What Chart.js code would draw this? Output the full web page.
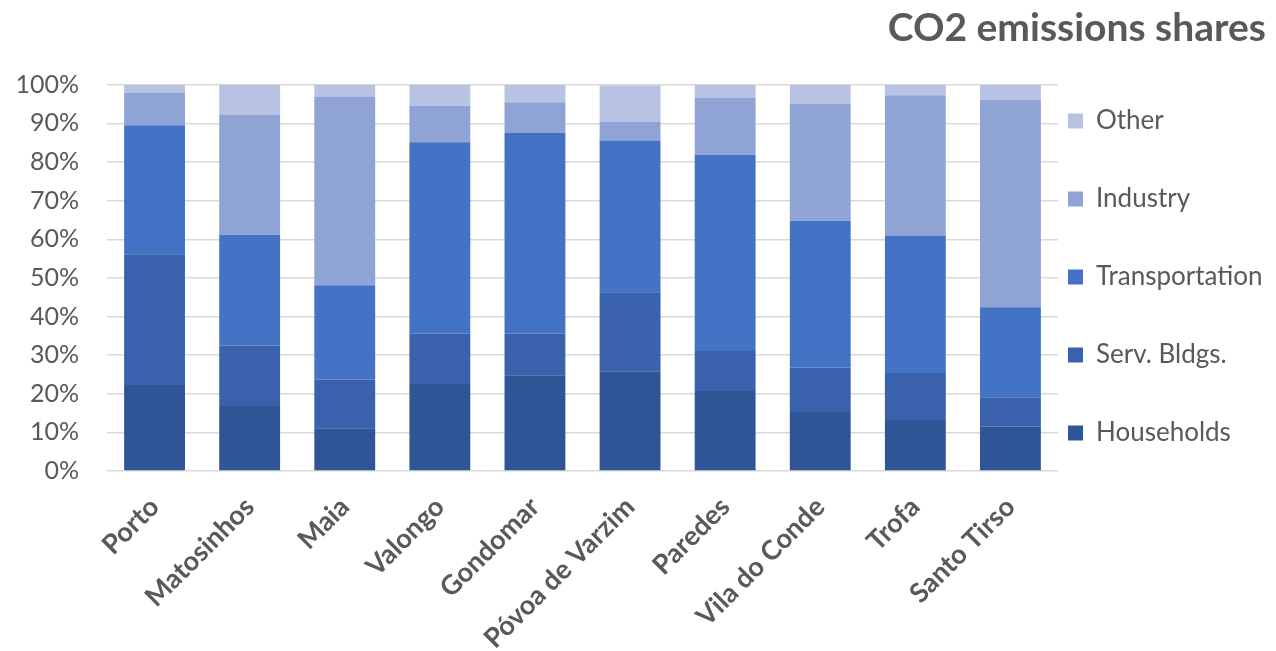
<!DOCTYPE html>
<html>
<head>
<meta charset="utf-8">
<script src="https://cdn.jsdelivr.net/npm/chart.js@4/dist/chart.umd.min.js"></script>
<style>
  html, body { margin: 0; padding: 0; background: #ffffff; }
  #wrap { width: 1276px; height: 651px; }
</style>
</head>
<body>
<div id="wrap"><canvas id="chart" width="1276" height="651"></canvas></div>
<script>
// Municipalities of the Porto metropolitan area
const municipalities = ['Porto', 'Matosinhos', 'Maia', 'Valongo', 'Gondomar',
  'Póvoa de Varzim', 'Paredes', 'Vila do Conde', 'Trofa', 'Santo Tirso'];

// Share of CO2 emissions by sector (%)
const households     = [22.3, 16.8, 11.1, 22.5, 24.8, 25.8, 20.7, 15.3, 13.2, 11.5];
const servBuildings  = [33.8, 15.7, 12.6, 13.1, 10.8, 20.5, 10.4, 11.5, 12.2,  7.6];
const transportation = [33.4, 28.7, 24.4, 49.5, 51.9, 39.3, 50.7, 38.0, 35.6, 23.3];
const industry       = [ 8.4, 31.1, 48.9,  9.5,  8.0,  4.9, 14.9, 30.2, 36.3, 53.7];
const other          = [ 2.1,  7.7,  3.0,  5.4,  4.5,  9.3,  3.3,  5.0,  2.7,  3.9];

const yTicks = [0, 10, 20, 30, 40, 50, 60, 70, 80, 90, 100];

const FONT = 'Lato, "Open Sans", sans-serif';
const GREY = '#595959';

const series = [
  { label: 'Households',     data: households,     color: '#2F5597' },
  { label: 'Serv. Bldgs.',   data: servBuildings,  color: '#3A62AC' },
  { label: 'Transportation', data: transportation, color: '#4472C4' },
  { label: 'Industry',       data: industry,       color: '#8FA3D4' },
  { label: 'Other',          data: other,          color: '#B8C2E2' }
];

new Chart(document.getElementById('chart'), {
  type: 'bar',
  data: {
    labels: municipalities,
    datasets: series.map(s => ({
      label: s.label,
      data: s.data,
      backgroundColor: s.color,
      borderWidth: 0,
      barPercentage: 0.64,
      categoryPercentage: 1.0
    }))
  },
  options: {
    responsive: false,
    animation: false,
    layout: { padding: { left: 0, right: 10, top: 0, bottom: 0 } },
    plugins: {
      title: {
        display: true,
        text: 'CO2 emissions shares',
        align: 'end',
        color: GREY,
        font: { family: FONT, size: 39, weight: 'bold', lineHeight: 1.2 },
        padding: { top: 5, bottom: 33 }
      },
      legend: {
        position: 'right',
        align: 'start',
        fullSize: true,
        maxWidth: 208,
        reverse: true,
        // empty title used as a top spacer for the legend column
        title: { display: true, text: '', padding: { top: 97, bottom: 0 }, font: { size: 1, lineHeight: 1 } },
        labels: {
          color: GREY,
          boxWidth: 15,
          boxHeight: 15,
          padding: 10,
          font: { family: FONT, size: 26, lineHeight: '68px' },
          generateLabels(chart) {
            const items = Chart.defaults.plugins.legend.labels.generateLabels(chart);
            return items.map(it => Object.assign(it, { text: [it.text], lineWidth: 0 }));
          }
        }
      },
      tooltip: { enabled: false }
    },
    scales: {
      x: {
        stacked: true,
        grid: { display: false },
        border: { display: false },
        ticks: {
          color: GREY,
          font: { family: FONT, size: 27, weight: 'bold' },
          minRotation: 45,
          maxRotation: 45,
          padding: 12,
          autoSkip: false
        },
        afterFit(scale) { scale.height = 180; }
      },
      y: {
        stacked: true,
        min: 0,
        max: 100,
        afterBuildTicks(scale) { scale.ticks = yTicks.map(v => ({ value: v })); },
        grid: { color: '#d9d9d9', lineWidth: 1.5, drawTicks: false },
        border: { display: false },
        ticks: {
          color: GREY,
          font: { family: FONT, size: 25 },
          padding: 28,
          callback: v => v + '%'
        },
        afterFit(scale) { scale.width = 107; }
      }
    }
  }
});
</script>
</body>
</html>
